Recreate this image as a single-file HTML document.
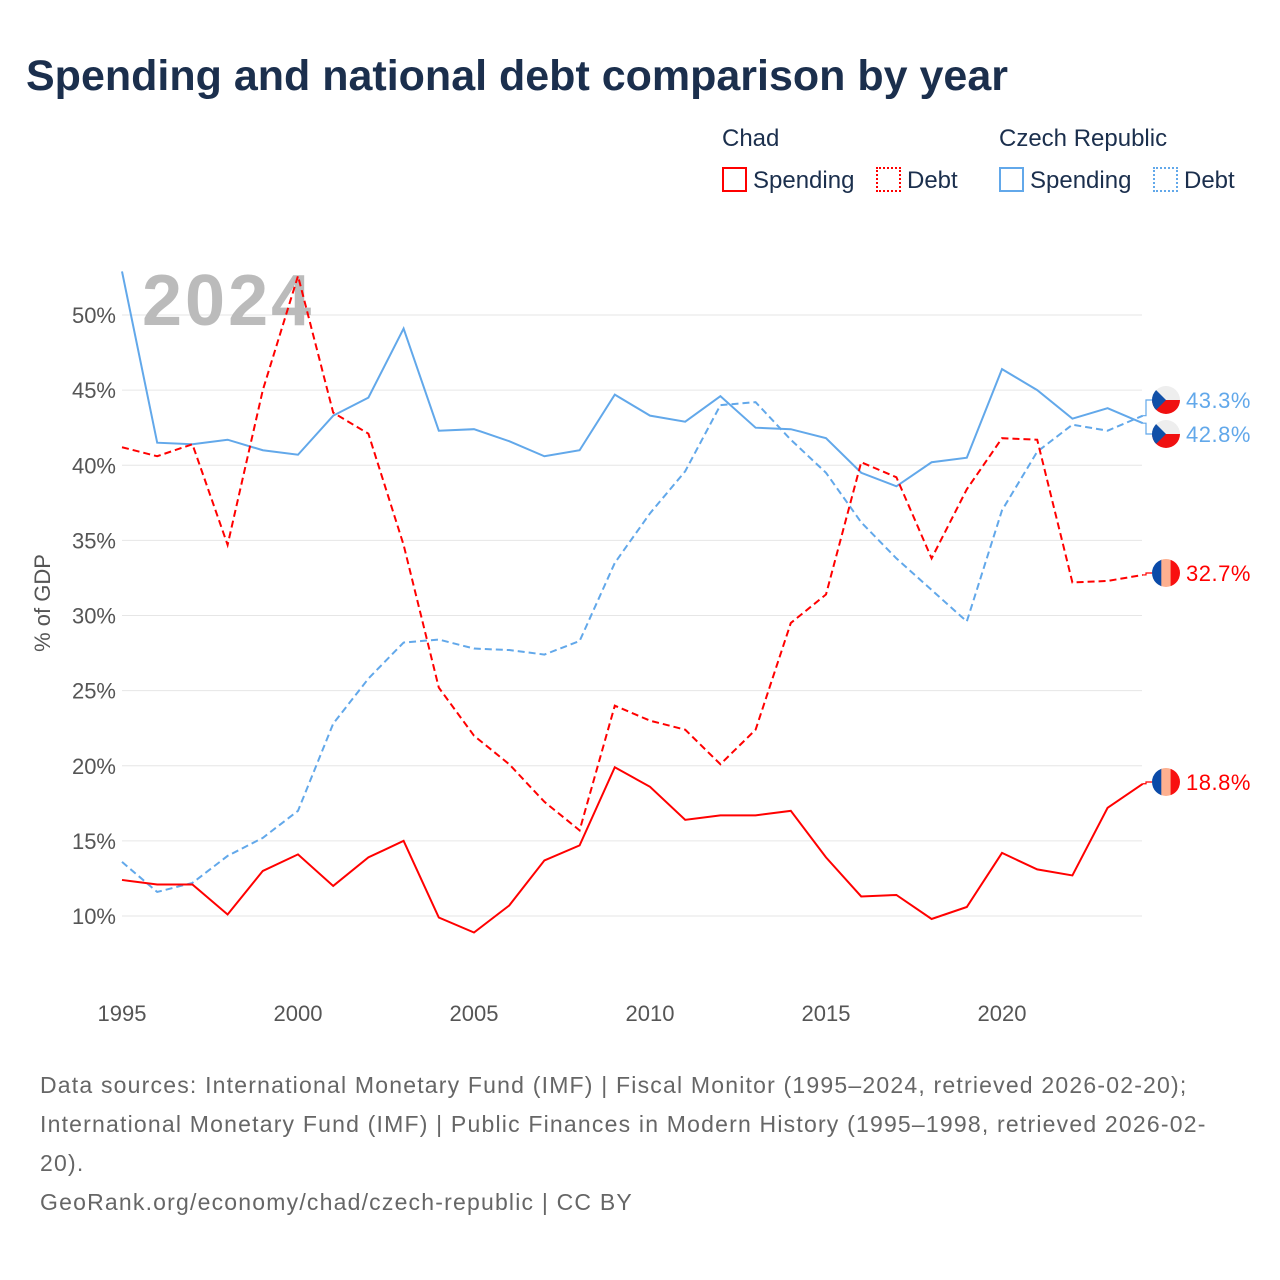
<!DOCTYPE html>
<html><head><meta charset="utf-8"><style>
body{margin:0;background:#fff;font-family:"Liberation Sans",sans-serif;}
#wrap{position:relative;width:1280px;height:1280px;overflow:hidden;}
.t{position:absolute;white-space:nowrap;}
</style></head><body>
<div id="wrap">
<div class="t" style="left:26px;top:52px;font-size:43px;font-weight:bold;color:#1b2f4d;letter-spacing:0px">Spending and national debt comparison by year</div>
<div class="t" style="left:722px;top:125px;font-size:24px;color:#1b2f4d">Chad</div>
<div class="t" style="left:999px;top:125px;font-size:24px;color:#1b2f4d">Czech Republic</div>
<div class="t" style="left:722px;top:167px;font-size:24px;color:#1b2f4d"><span style="display:inline-block;width:21px;height:21px;border:2px solid #f00;vertical-align:-4px;margin-right:6px"></span>Spending</div>
<div class="t" style="left:876px;top:167px;font-size:24px;color:#1b2f4d"><span style="display:inline-block;width:21px;height:21px;border:2px dotted #f00;vertical-align:-4px;margin-right:6px"></span>Debt</div>
<div class="t" style="left:999px;top:167px;font-size:24px;color:#1b2f4d"><span style="display:inline-block;width:21px;height:21px;border:2px solid #62a8ea;vertical-align:-4px;margin-right:6px"></span>Spending</div>
<div class="t" style="left:1153px;top:167px;font-size:24px;color:#1b2f4d"><span style="display:inline-block;width:21px;height:21px;border:2px dotted #62a8ea;vertical-align:-4px;margin-right:6px"></span>Debt</div>
<svg id="chart" width="1280" height="1280" style="position:absolute;left:0;top:0"></svg>
<div class="t" style="left:40px;top:1066px;font-size:23px;line-height:39px;color:#666;white-space:normal;width:1190px;letter-spacing:1.2px">Data sources: International Monetary Fund (IMF) | Fiscal Monitor (1995–2024, retrieved 2026-02-20); International Monetary Fund (IMF) | Public Finances in Modern History (1995–1998, retrieved 2026-02-20).<br>GeoRank.org/economy/chad/czech-republic | CC BY</div>
</div>
<script>
const years=[];for(let y=1995;y<=2024;y++)years.push(y);
const chadSpending=[12.4,12.1,12.1,10.1,13.0,14.1,12.0,13.9,15.0,9.9,8.9,10.7,13.7,14.7,19.9,18.6,16.4,16.7,16.7,17.0,13.9,11.3,11.4,9.8,10.6,14.2,13.1,12.7,17.2,18.8];
const chadDebt=[41.2,40.6,41.4,34.7,45.0,52.6,43.5,42.1,34.7,25.2,22.0,20.1,17.6,15.7,24.0,23.0,22.4,20.1,22.4,29.5,31.4,40.2,39.2,33.8,38.4,41.8,41.7,32.2,32.3,32.7];
const czSpending=[52.9,41.5,41.4,41.7,41.0,40.7,43.3,44.5,49.1,42.3,42.4,41.6,40.6,41.0,44.7,43.3,42.9,44.6,42.5,42.4,41.8,39.5,38.6,40.2,40.5,46.4,45.0,43.1,43.8,42.8];
const czDebt=[13.6,11.6,12.2,14.0,15.2,17.0,22.8,25.8,28.2,28.4,27.8,27.7,27.4,28.3,33.5,36.8,39.6,44.0,44.2,41.7,39.5,36.2,33.8,31.7,29.6,37.0,40.9,42.7,42.3,43.3];
const yTicks=[10,15,20,25,30,35,40,45,50];
const xTicks=[1995,2000,2005,2010,2015,2020];
const X=y=>122+(y-1995)*35.2, Y=v=>916-(v-10)*15.025;
const svg=document.getElementById('chart'),NS='http://www.w3.org/2000/svg';
function mk(t,a,p){const e=document.createElementNS(NS,t);for(const k in a)e.setAttribute(k,a[k]);(p||svg).appendChild(e);return e;}
yTicks.forEach(v=>{
 const g=mk('line',{x1:122,x2:1142,y1:Y(v),y2:Y(v),stroke:'#e6e6e6','stroke-width':1});
 
 
 const t=mk('text',{x:116,y:Y(v)+8,'text-anchor':'end','font-size':22,fill:'#555','font-family':'Liberation Sans'});t.textContent=v+'%';
 
 
});
xTicks.forEach(v=>{
 const t=mk('text',{x:X(v),y:1021,'text-anchor':'middle','font-size':22,fill:'#555','font-family':'Liberation Sans'});t.textContent=v;
 
 
});
const yt=mk('text',{x:50,y:603,'text-anchor':'middle','font-size':22,fill:'#555',transform:'rotate(-90 50 603)','font-family':'Liberation Sans'});yt.textContent='% of GDP';


const yr=mk('text',{x:142,y:325,'font-size':72,'font-weight':'bold',fill:'#bbb','font-family':'Liberation Sans','letter-spacing':3});yr.textContent='2024';


function line(vals,col,dash,name){
 const p=mk('path',{d:vals.map((v,i)=>(i?'L':'M')+X(years[i])+' '+Y(v)).join(''),fill:'none',stroke:col,'stroke-width':2,'stroke-dasharray':dash||'none'});
 
 
}
line(czDebt,'#62a8ea','7 4','czech-debt-line');
line(czSpending,'#62a8ea','','czech-spending-line');
line(chadDebt,'#f00','7 4','chad-debt-line');
line(chadSpending,'#f00','','chad-spending-line');
function flag(type,labelY,val,col,name,vy){
 const g=mk('g',{});
 
 
 const cx=1166,r=14,ly=labelY;
 const id='c'+Math.round(ly);
 const cp=mk('clipPath',{id:id},g);mk('circle',{cx:cx,cy:ly,r:r},cp);
 const f=mk('g',{'clip-path':'url(#'+id+')'},g);
 if(type==='cz'){
  mk('rect',{x:cx-r,y:ly-r,width:2*r,height:r,fill:'#eee'},f);
  mk('rect',{x:cx-r,y:ly,width:2*r,height:r,fill:'#f01010'},f);
  mk('polygon',{points:`${cx-r},${ly-r} ${cx},${ly} ${cx-r},${ly+r}`,fill:'#1150a8'},f);
 }else{
  mk('rect',{x:cx-r,y:ly-r,width:10,height:2*r,fill:'#0a4aa8'},f);
  mk('rect',{x:cx-r+9.3,y:ly-r,width:10,height:2*r,fill:'#fdb090'},f);
  mk('rect',{x:cx-r+18.6,y:ly-r,width:10,height:2*r,fill:'#f81010'},f);
 }
 const yv=Y(vy);
 mk('path',{d:`M${X(2024)} ${yv} L1146 ${yv} L1146 ${ly} L1152 ${ly}`,fill:'none',stroke:col,'stroke-width':1.2},g);
 const t=mk('text',{x:1186,y:ly+8,'font-size':22,fill:col,'font-family':'Liberation Sans','letter-spacing':0.5},g);t.textContent=val.toFixed(1)+'%';
}
flag('cz',400,czDebt[29],'#62a8ea','czech-debt-end-label',czDebt[29]);
flag('cz',434,czSpending[29],'#62a8ea','czech-spending-end-label',czSpending[29]);
flag('td',573,chadDebt[29],'#f00','chad-debt-end-label',chadDebt[29]);
flag('td',782,chadSpending[29],'#f00','chad-spending-end-label',chadSpending[29]);
</script>
</body></html>
